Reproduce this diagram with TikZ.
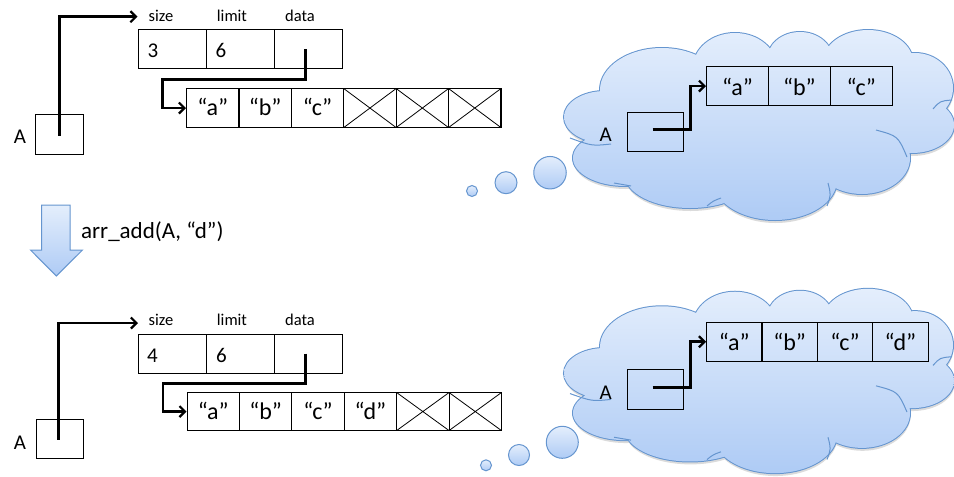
\documentclass[tikz,border=0pt]{standalone}
\usepackage{fontspec}
\setmainfont{Carlito}
\usetikzlibrary{arrows.meta,calc}
\definecolor{cloudtop}{HTML}{E4EEFC}
\definecolor{cloudbot}{HTML}{AECBF5}
\definecolor{cloudline}{HTML}{6595CF}
\newcommand\cloudlobes{%
 (605,117) ellipse [x radius=41pt,y radius=26pt]
 (625,158) ellipse [x radius=52pt,y radius=28pt]
 (690,175) ellipse [x radius=65pt,y radius=33pt]
 (775,180) ellipse [x radius=62pt,y radius=40pt]
 (862,158) ellipse [x radius=48pt,y radius=36pt]
 (912,125) ellipse [x radius=42pt,y radius=28pt]
 (915,88) ellipse [x radius=38pt,y radius=35pt]
 (868,62) ellipse [x radius=45pt,y radius=32pt]
 (800,60) ellipse [x radius=33pt,y radius=28pt]
 (735,68) ellipse [x radius=42pt,y radius=35pt]
 (662,90) ellipse [x radius=62pt,y radius=42pt]
 (765,125) ellipse [x radius=150pt,y radius=60pt]}
\newcommand\cloudinner{%
 (570,138) .. controls (592,146) .. (611,144)
 (952,100) .. controls (940,101) .. (933,109)
 (876,130) .. controls (898,136) .. (907,157)
 (827,206) .. controls (831,195) .. (828,183)
 (707,206) .. controls (713,201) .. (721,198)
 (614,183) .. controls (622,185) .. (631,186)}
\tikzset{
 box/.style={draw, line width=1.1pt, anchor=north west, inner sep=0pt},
 cell/.style={box, minimum height=39pt, text height=15pt, text depth=0pt, font=\fontsize{24}{26}\selectfont},
 ccell/.style={cell, text height=18pt},
 scell/.style={box, minimum width=68pt, minimum height=39pt},
 dig/.style={font=\fontsize{21}{23}\selectfont, inner sep=0pt, anchor=base west},
 lbl/.style={font=\fontsize{16.5}{18}\selectfont, inner sep=0pt},
 txt/.style={font=\fontsize{21}{23}\selectfont, inner sep=0pt},
 xcell/.style={cell, path picture={\draw[line width=0.8pt] (path picture bounding box.north west) -- (path picture bounding box.south east) (path picture bounding box.south west) -- (path picture bounding box.north east);}},
 ptr/.style={line width=2.7pt, -{Straight Barb[length=5.5pt,width=11pt,line width=2.2pt]}},
 bubble/.style={draw=cloudline, line width=1pt, top color=cloudtop, bottom color=cloudbot, circle, inner sep=0pt},
}
\begin{document}
\begin{tikzpicture}[x=1pt,y=-1pt]
\useasboundingbox (0,0) rectangle (954,477);
% ---------- top left ----------
\node[lbl] (l1) at (161,16) {size};
\node[lbl] (l2) at (232,16) {limit};
\node[lbl] (l3) at (300,16) {data};
\node[scell] (s1) at (137.5,29) {};
\node[scell] (s2) at (205.5,29) {};
\node[scell] (s3) at (273.5,29) {};
\node[dig] (s1t) at ($(s1.west)+(10,8.8)$) {3};
\node[dig] (s2t) at ($(s2.west)+(10,8.8)$) {6};
\node[cell, minimum width=52.4pt] (a1) at (186,88) {“a”};
\node[cell, minimum width=52.4pt] (a2) at (238.4,88) {“b”};
\node[cell, minimum width=52.4pt] (a3) at (290.8,88) {“c”};
\node[xcell, minimum width=52.4pt] (a4) at (343.2,88) {};
\node[xcell, minimum width=52.4pt] (a5) at (395.6,88) {};
\node[xcell, minimum width=52.4pt] (a6) at (448,88) {};
\node[box, minimum width=47.5pt, minimum height=40pt] (A1) at (35,114) {};
\node[txt] (A1l) at (20,137) {A};
\draw[ptr] ([yshift=-1pt]A1.center) |- ([yshift=12.3pt]s1.north west);
\draw[ptr] ([xshift=-2.5pt]s3.center) -- ++(0,30.5) -- ++(-143,0) |- (a1.west);
% ---------- top cloud ----------
\fill[black!14, shift={(0.5,3)}] \cloudlobes;
\draw[cloudline, line width=2pt] \cloudlobes;
\shade[top color=cloudtop, bottom color=cloudbot] \cloudlobes;
\draw[cloudline, line width=1pt] \cloudinner;
\node[bubble, minimum size=11pt] (b1) at (472,191) {};
\node[bubble, minimum size=22pt] (b2) at (506,182.7) {};
\node[bubble, minimum size=32.5pt] (b3) at (550,172.7) {};
\node[ccell, minimum width=61.9pt] (c1) at (706,66) {“a”};
\node[ccell, minimum width=61.9pt] (c2) at (767.9,66) {“b”};
\node[ccell, minimum width=61.9pt] (c3) at (829.8,66) {“c”};
\node[box, minimum width=56.6pt, minimum height=38.7pt] (cA) at (626.7,112.3) {};
\node[txt] (cAl) at (605.7,135) {A};
\draw[ptr] ([xshift=-3pt,yshift=2.5pt]cA.center) -- ++(38,0) |- (c1.west);
% ---------- down arrow ----------
\shade[top color=cloudtop, bottom color=cloudbot, draw=cloudline, line width=1pt]
 (41.7,205) -- (70,205) -- (70,250) -- (82.5,250) -- (56.3,276) -- (30.5,250) -- (41.7,250) -- cycle;
\node[font=\fontsize{23}{25}\selectfont, inner sep=0pt, anchor=west] (op) at (81,231.5) {arr\_add(A, “d”)};
% ---------- bottom left ----------
\node[lbl] (m1) at (161,319.5) {size};
\node[lbl] (m2) at (232,319.5) {limit};
\node[lbl] (m3) at (300,319.5) {data};
\node[scell] (t1) at (138,333.5) {};
\node[scell] (t2) at (206,333.5) {};
\node[scell] (t3) at (274,333.5) {};
\node[dig] (t1t) at ($(t1.west)+(9,8.8)$) {4};
\node[dig] (t2t) at ($(t2.west)+(10,8.8)$) {6};
\node[cell, minimum width=52.4pt, minimum height=38pt] (d1) at (186.5,392) {“a”};
\node[cell, minimum width=52.4pt, minimum height=38pt] (d2) at (238.9,392) {“b”};
\node[cell, minimum width=52.4pt, minimum height=38pt] (d3) at (291.3,392) {“c”};
\node[cell, minimum width=52.4pt, minimum height=38pt] (d4) at (343.7,392) {“d”};
\node[xcell, minimum width=52.4pt, minimum height=38pt] (d5) at (396.1,392) {};
\node[xcell, minimum width=52.4pt, minimum height=38pt] (d6) at (448.5,392) {};
\node[box, minimum width=47.5pt, minimum height=39.5pt] (A2) at (35.5,418.5) {};
\node[txt] (A2l) at (20,443) {A};
\draw[ptr] ([xshift=-1pt,yshift=-1pt]A2.center) |- ([yshift=10.5pt]t1.north west);
\draw[ptr] ([xshift=-3pt]t3.center) -- ++(0,30) -- ++(-142.5,0) |- (d1.west);
% ---------- bottom cloud ----------
\begin{scope}[shift={(0,380)}, yscale=0.97, shift={(0,-124)}]
\fill[black!14, shift={(0.5,3)}] \cloudlobes;
\draw[cloudline, line width=2pt] \cloudlobes;
\shade[top color=cloudtop, bottom color=cloudbot] \cloudlobes;
\draw[cloudline, line width=1pt] \cloudinner;
\end{scope}
\node[bubble, minimum size=11pt] (e1) at (486,465.3) {};
\node[bubble, minimum size=21pt] (e2) at (519,455) {};
\node[bubble, minimum size=32pt] (e3) at (562.3,442.3) {};
\node[ccell, minimum width=55.4pt] (f1) at (706,321.7) {“a”};
\node[ccell, minimum width=55.4pt] (f2) at (761.4,321.7) {“b”};
\node[ccell, minimum width=55.4pt] (f3) at (816.8,321.7) {“c”};
\node[ccell, minimum width=55.4pt] (f4) at (872.2,321.7) {“d”};
\node[box, minimum width=56.6pt, minimum height=39.7pt] (fA) at (626.7,369.3) {};
\node[txt] (fAl) at (605.7,392.7) {A};
\draw[ptr] ([xshift=-3pt,yshift=2.5pt]fA.center) -- ++(38,0) |- (f1.west);
\end{tikzpicture}
\end{document}
